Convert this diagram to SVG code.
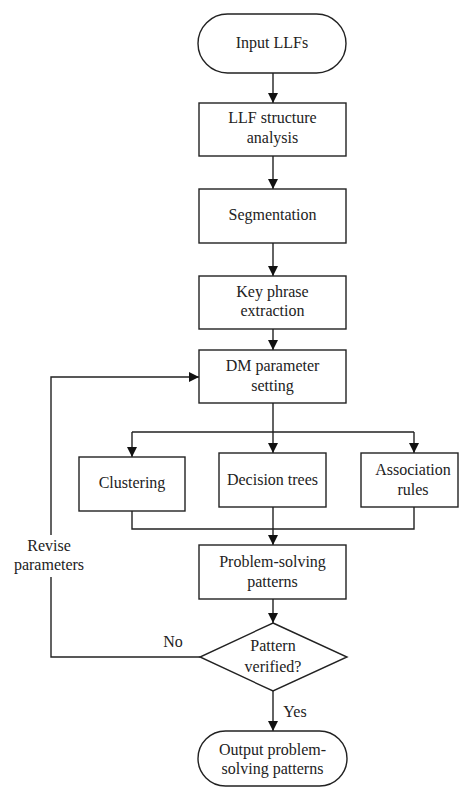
<svg xmlns="http://www.w3.org/2000/svg" width="459" height="787" viewBox="0 0 459 787">
<style>
.n{fill:#fff;stroke:#222;stroke-width:1.4}
.c{fill:none;stroke:#222;stroke-width:1.4}
text{font-family:"Liberation Serif","Times New Roman",serif;font-size:16px;fill:#222;text-anchor:middle}
</style>
<defs>
<marker id="ah" markerUnits="userSpaceOnUse" markerWidth="10" markerHeight="12" viewBox="0 0 10 12" refX="10" refY="5" orient="auto">
<path d="M0,0 L10,5 L0,10 Z" fill="#111"/>
</marker>
</defs>
<rect width="459" height="787" fill="#fff"/>
<g id="connectors">
<path class="c" d="M273,73 V103" marker-end="url(#ah)"/>
<path class="c" d="M273,156 V189" marker-end="url(#ah)"/>
<path class="c" d="M273,243 V276" marker-end="url(#ah)"/>
<path class="c" d="M273,329 V350" marker-end="url(#ah)"/>
<path class="c" d="M273,403 V432 M132,432 H414"/>
<path class="c" d="M132,432 V457" marker-end="url(#ah)"/>
<path class="c" d="M273,432 V453" marker-end="url(#ah)"/>
<path class="c" d="M414,432 V453" marker-end="url(#ah)"/>
<path class="c" d="M132,511 V529 H414 V507"/>
<path class="c" d="M273,507 V545" marker-end="url(#ah)"/>
<path class="c" d="M273,599 V623" marker-end="url(#ah)"/>
<path class="c" d="M200,657 H51 V577 M51,535 V377 H199" marker-end="url(#ah)"/>
<path class="c" d="M273,691 V731" marker-end="url(#ah)"/>
<text x="49" y="551">Revise</text>
<text x="49" y="570">parameters</text>
<text x="173" y="647">No</text>
<text x="295" y="717">Yes</text>
</g>
<g id="start">
<rect class="n" x="198" y="14" width="148" height="59" rx="29.5"/>
<text x="272" y="48">Input LLFs</text>
</g>
<g id="structure">
<rect class="n" x="199" y="103" width="147" height="53"/>
<text x="272.5" y="123">LLF structure</text>
<text x="272.5" y="143">analysis</text>
</g>
<g id="segmentation">
<rect class="n" x="199" y="189" width="147" height="54"/>
<text x="272.5" y="220">Segmentation</text>
</g>
<g id="keyphrase">
<rect class="n" x="199" y="276" width="147" height="53"/>
<text x="272.5" y="297">Key phrase</text>
<text x="272.5" y="316">extraction</text>
</g>
<g id="dmparam">
<rect class="n" x="199" y="350" width="147" height="53"/>
<text x="272.5" y="371">DM parameter</text>
<text x="272.5" y="391">setting</text>
</g>
<g id="clustering">
<rect class="n" x="79" y="457" width="106" height="54"/>
<text x="132" y="488">Clustering</text>
</g>
<g id="decisiontrees">
<rect class="n" x="219" y="453" width="107" height="54"/>
<text x="272.5" y="485">Decision trees</text>
</g>
<g id="association">
<rect class="n" x="361" y="453" width="97" height="54"/>
<text x="413" y="475">Association</text>
<text x="413" y="495">rules</text>
</g>
<g id="patterns">
<rect class="n" x="199" y="545" width="147" height="54"/>
<text x="272.5" y="567">Problem-solving</text>
<text x="272.5" y="587">patterns</text>
</g>
<g id="verify">
<polygon class="n" points="273,623 347,657 273,691 200,657"/>
<text x="273" y="651">Pattern</text>
<text x="273" y="672">verified?</text>
</g>
<g id="output">
<rect class="n" x="198" y="731" width="149" height="55" rx="27.5"/>
<text x="272.5" y="755">Output problem-</text>
<text x="272.5" y="774">solving patterns</text>
</g>
</svg>
